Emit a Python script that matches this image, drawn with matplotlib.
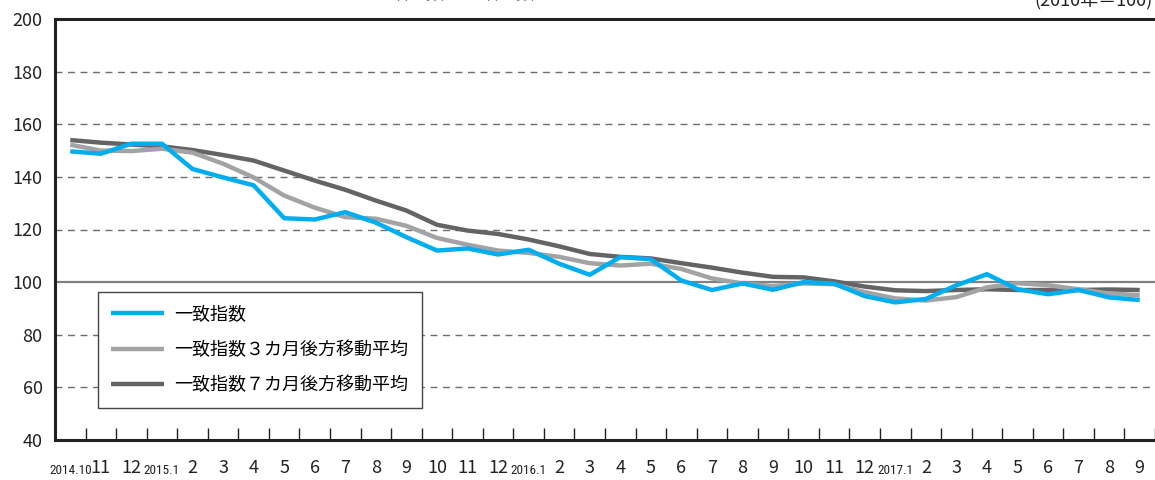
import numpy as np
import matplotlib
matplotlib.use("Agg")
import matplotlib.pyplot as plt
from matplotlib import font_manager

plt.rcParams['font.family'] = ['Noto Sans CJK JP', 'DejaVu Sans']

# months 2014.10 .. 2017.9
month_labels = ["2014.10", "11", "12", "2015.1", "2", "3", "4", "5", "6", "7", "8", "9",
                "10", "11", "12", "2016.1", "2", "3", "4", "5", "6", "7", "8", "9",
                "10", "11", "12", "2017.1", "2", "3", "4", "5", "6", "7", "8", "9"]

coincident = [149.7, 148.8, 152.6, 152.6, 143.0, 139.8, 136.8, 124.3, 123.8, 126.6, 122.6, 117.1,
              112.0, 112.8, 110.5, 112.3, 107.0, 102.8, 109.5, 108.7, 100.6, 97.0, 99.5, 97.1,
              100.0, 99.4, 94.7, 92.3, 93.6, 98.8, 103.0, 97.3, 95.4, 97.0, 94.2, 93.2]

avg3 = [152.2, 150.0, 149.8, 150.7, 149.2, 145.0, 139.8, 132.9, 128.3, 124.7, 124.1, 121.4,
        116.8, 114.2, 112.0, 111.1, 109.6, 107.2, 106.3, 107.0, 105.0, 101.4, 99.5, 98.5,
        99.5, 99.2, 96.2, 93.8, 93.0, 94.3, 98.0, 99.6, 98.8, 97.3, 95.7, 95.0]

avg7 = [154.0, 153.0, 152.3, 151.6, 150.2, 148.3, 146.2, 142.4, 138.6, 135.1, 131.0, 127.2,
        121.8, 119.6, 118.3, 116.2, 113.6, 110.7, 109.6, 109.0, 107.2, 105.5, 103.6, 102.0,
        101.8, 100.3, 98.3, 96.9, 96.6, 97.0, 97.3, 97.0, 97.0, 97.0, 97.2, 97.0]

series_names = ["一致指数", "一致指数３カ月後方移動平均", "一致指数７カ月後方移動平均"]

x = np.arange(len(month_labels))

# narrow font for the year labels, if one is around
installed = {f.name for f in font_manager.fontManager.ttflist}
narrow = [f for f in ["Roboto Condensed", "Liberation Sans Narrow", "Open Sans Condensed"]
          if f in installed]
year_family = (narrow[:1] or ["Noto Sans CJK JP"]) + ["DejaVu Sans"]
year_size = 9.5 if narrow else 7.5

fig = plt.figure(figsize=(11.55, 4.8), dpi=100)
ax = fig.add_axes([55/1155, 40/480, 1100/1155, 421/480])

# grid lines
for yv in [60, 80, 120, 140, 160, 180]:
    ax.axhline(yv, color="#6e6e6e", lw=1.0, ls=(0, (5, 4)), zorder=1)
ax.axhline(100, color="#808080", lw=1.6, zorder=1)

ax.plot(x, avg7, color="#646464", lw=3.2, label=series_names[2], zorder=3,
        solid_capstyle="butt")
ax.plot(x, avg3, color="#a3a3a6", lw=3.2, label=series_names[1], zorder=4,
        solid_capstyle="butt")
ax.plot(x, coincident, color="#00aeef", lw=3.2, label=series_names[0], zorder=5,
        solid_capstyle="butt")

ax.set_xlim(-0.5, 35.3)
ax.set_ylim(40, 200)
ax.set_yticks(np.arange(40, 201, 20))
ax.tick_params(axis="y", length=0, pad=9, labelsize=13, labelcolor="#222222")

ax.set_xticks(x)
ax.set_xticklabels(month_labels)
ax.tick_params(axis="x", which="major", length=0, pad=14, labelsize=13, labelcolor="#222222")
for lab in ax.get_xticklabels():
    if "." in lab.get_text():
        lab.set_fontsize(year_size)
        lab.set_family(year_family)
        lab.set_y(-0.012)
ax.set_xticks(np.arange(-0.5, 35.6, 1), minor=True)
ax.tick_params(axis="x", which="minor", direction="in", length=9, width=1.0, color="#222222")

for side in ["left", "bottom", "top"]:
    ax.spines[side].set_linewidth(2.2)
    ax.spines[side].set_color("#222222")
ax.spines["right"].set_visible(False)

h, l = ax.get_legend_handles_labels()
leg = ax.legend(h[::-1], l[::-1], loc="upper left", bbox_to_anchor=(0.039, 0.351),
                borderaxespad=0, fontsize=13, handlelength=2.9, handletextpad=0.6,
                labelspacing=0.95, borderpad=0.75, fancybox=False, framealpha=1,
                edgecolor="#444444")
leg.get_frame().set_linewidth(1.0)

# cut-off header texts at the top edge
fig.text(0.47, 1.012, "一致指数と一致指数の後方移動平均の推移", ha="center", va="center",
         fontsize=13, color="#333333")
fig.text(0.998, 1.0, "(2010年＝100)", ha="right", va="center", fontsize=13, color="#222222")

fig.savefig("out.png", dpi=100)
